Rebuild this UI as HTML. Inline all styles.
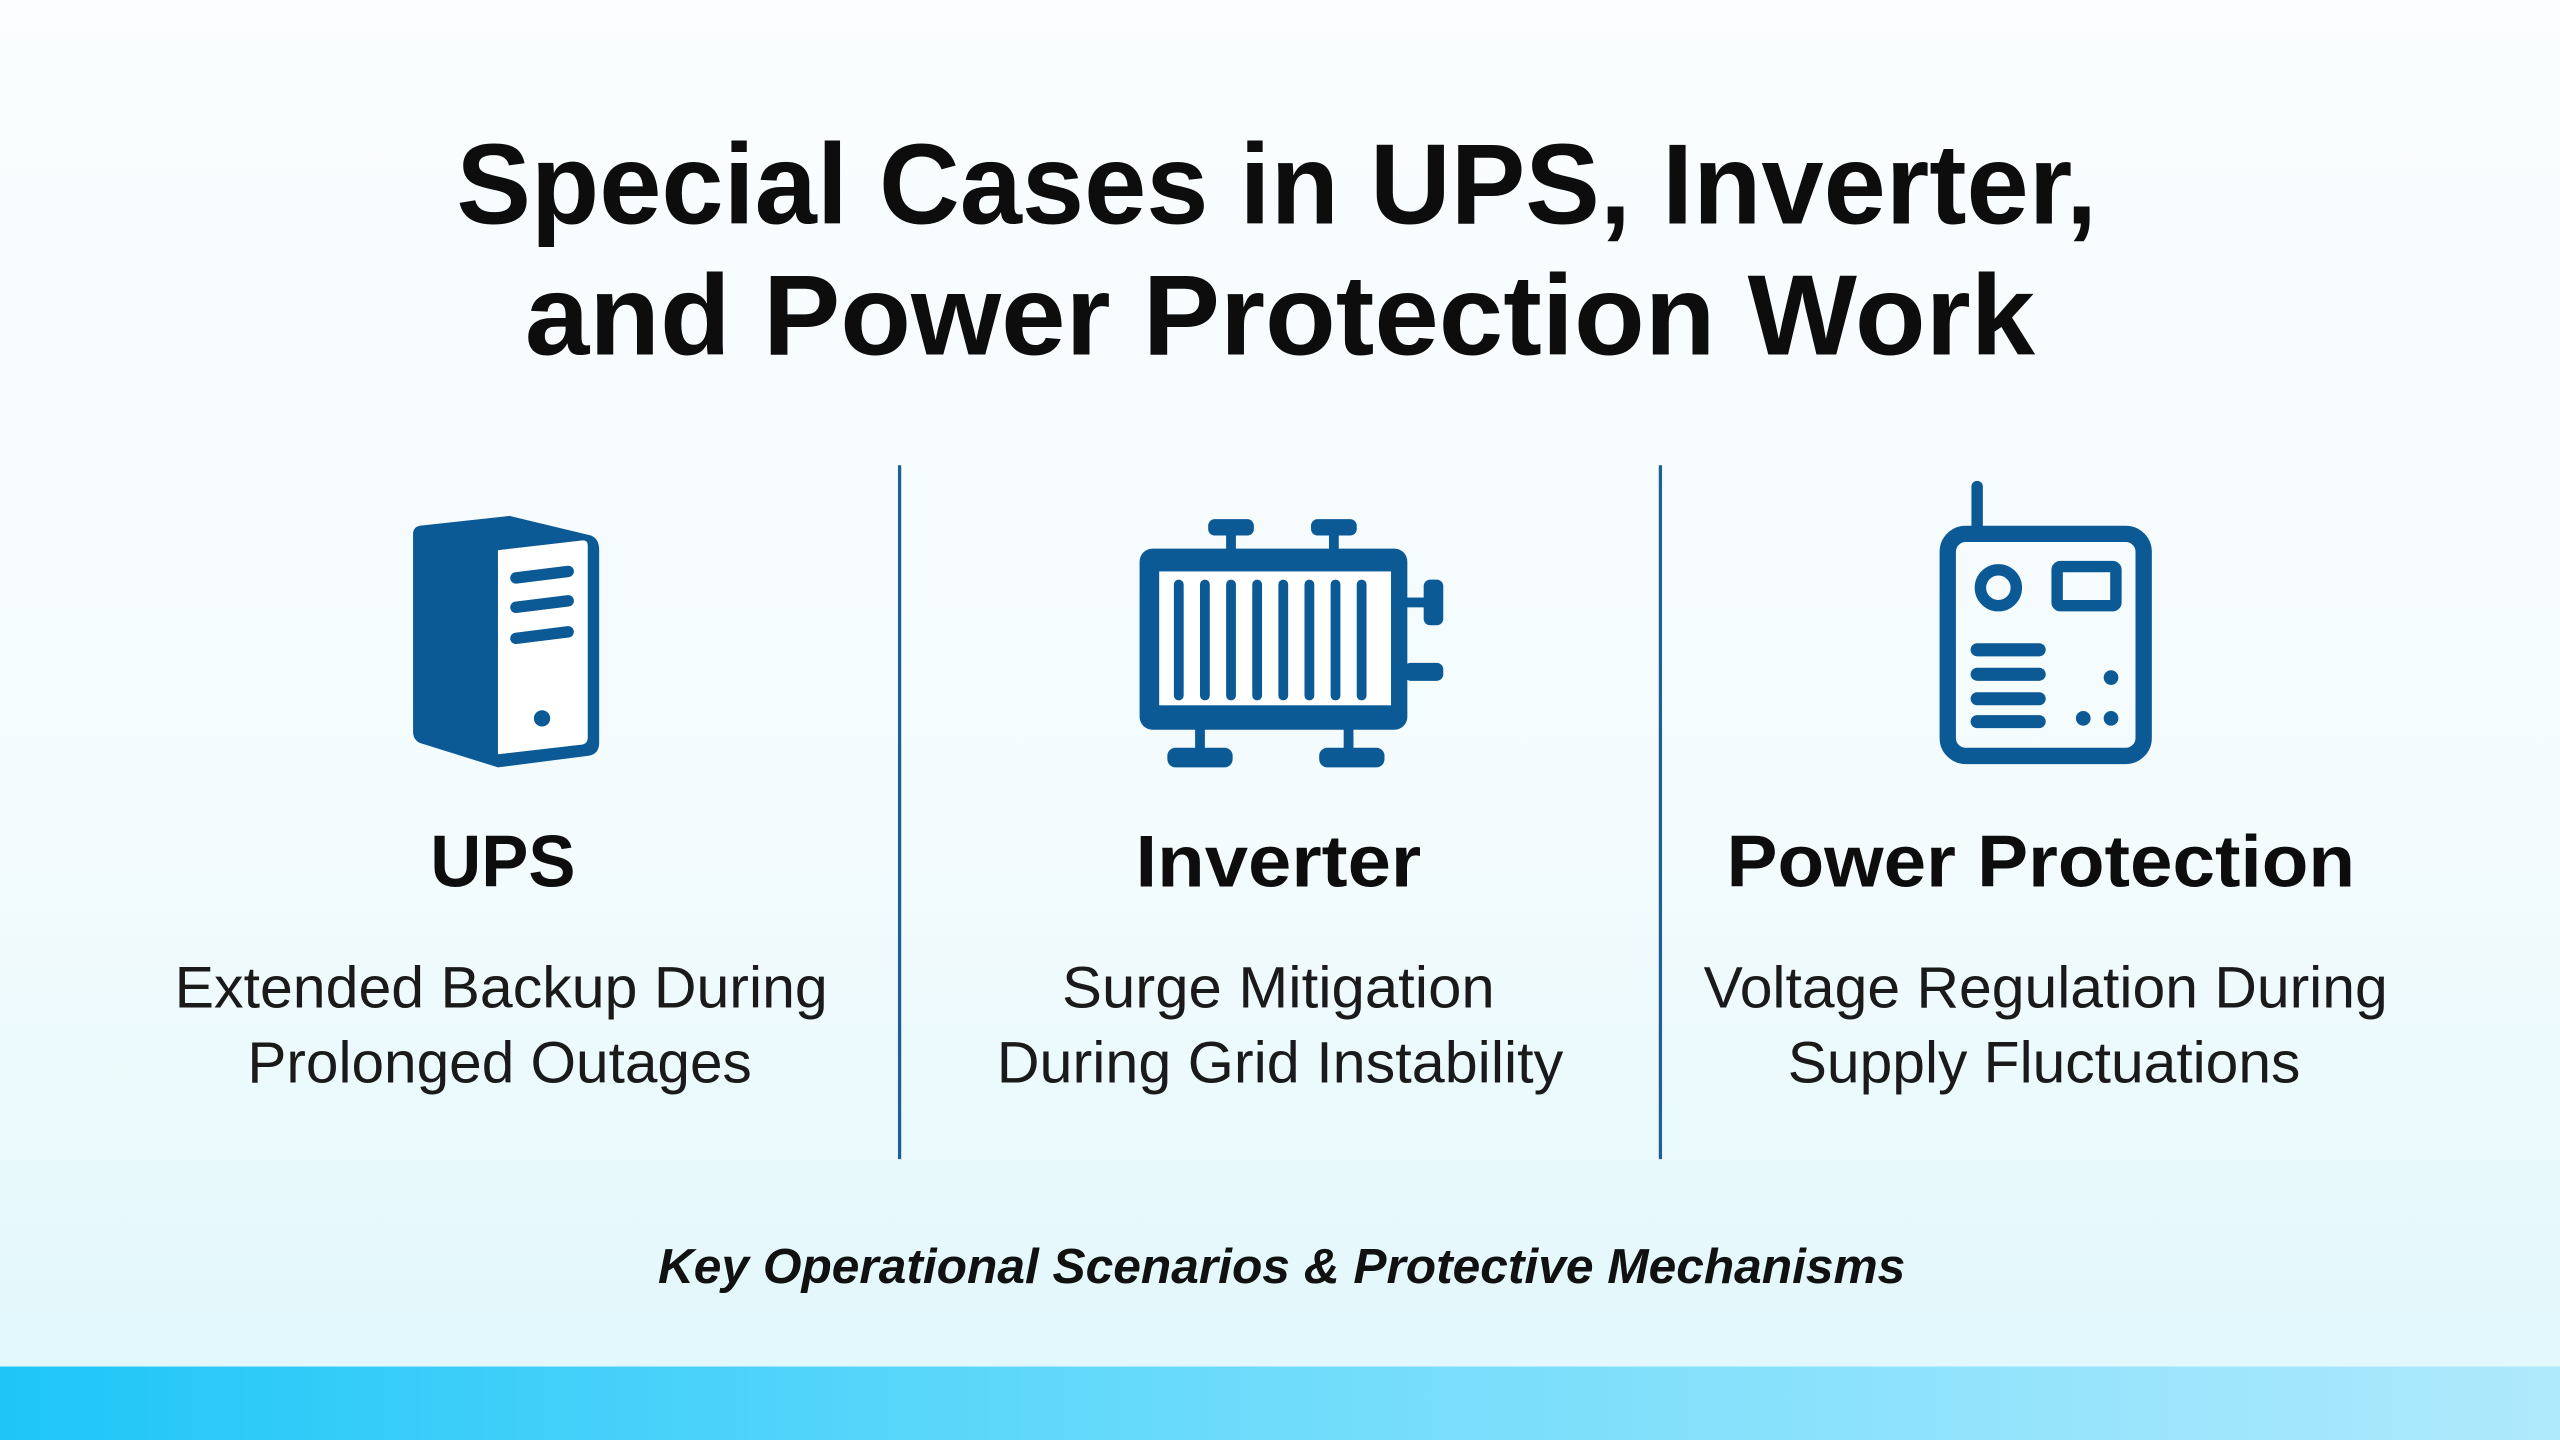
<!DOCTYPE html>
<html><head><meta charset="utf-8"><style>
html,body{margin:0;padding:0;width:2560px;height:1440px;overflow:hidden;}
svg{display:block}
</style></head><body>
<svg width="2560" height="1440" viewBox="0 0 1568 882" xmlns="http://www.w3.org/2000/svg">
<defs>
<linearGradient id="bg" x1="0" y1="0" x2="0" y2="1">
<stop offset="0" stop-color="#fbfdfe"/><stop offset="0.6" stop-color="#f3fbfd"/><stop offset="1" stop-color="#dff7fc"/>
</linearGradient>
<linearGradient id="bar" x1="0" y1="0" x2="1" y2="0">
<stop offset="0" stop-color="#1ec6f8"/><stop offset="0.5" stop-color="#6fdcfb"/><stop offset="1" stop-color="#afe9fc"/>
</linearGradient>
</defs>
<rect width="1568" height="882" fill="url(#bg)"/>
<rect y="837" width="1568" height="45" fill="url(#bar)"/>

<g font-family="Liberation Sans, sans-serif" fill="#0d0d0d" text-anchor="middle">
<text x="782" y="137" font-size="70" font-weight="bold" textLength="1005" lengthAdjust="spacingAndGlyphs">Special Cases in UPS, Inverter,</text>
<text x="784" y="217" font-size="70" font-weight="bold" textLength="925" lengthAdjust="spacingAndGlyphs">and Power Protection Work</text>

<text x="308" y="543" font-size="45" font-weight="bold" textLength="89" lengthAdjust="spacingAndGlyphs">UPS</text>
<text x="783" y="543" font-size="45" font-weight="bold" textLength="175" lengthAdjust="spacingAndGlyphs">Inverter</text>
<text x="1250" y="543" font-size="45" font-weight="bold" textLength="385" lengthAdjust="spacingAndGlyphs">Power Protection</text>

<g font-size="36" fill="#1a1a1a">
<text x="307" y="617" textLength="400" lengthAdjust="spacingAndGlyphs">Extended Backup During</text>
<text x="306" y="663" textLength="309" lengthAdjust="spacingAndGlyphs">Prolonged Outages</text>
<text x="783" y="617" textLength="265" lengthAdjust="spacingAndGlyphs">Surge Mitigation</text>
<text x="784" y="663" textLength="347" lengthAdjust="spacingAndGlyphs">During Grid Instability</text>
<text x="1253" y="617" textLength="419" lengthAdjust="spacingAndGlyphs">Voltage Regulation During</text>
<text x="1252" y="663" textLength="314" lengthAdjust="spacingAndGlyphs">Supply Fluctuations</text>
</g>
<text x="785" y="786" font-size="30" font-weight="bold" font-style="italic" fill="#111" textLength="764" lengthAdjust="spacingAndGlyphs">Key Operational Scenarios &amp; Protective Mechanisms</text>
</g>

<line x1="551" y1="285" x2="551" y2="710" stroke="#1f5f93" stroke-width="2"/>
<line x1="1017" y1="285" x2="1017" y2="710" stroke="#1f5f93" stroke-width="2"/>

<!-- UPS icon -->
<g fill="#0b5a96">
<path d="M257,322 L312,316 L362,328 Q367,330 367,337 L367,455 Q367,462 360,463 L305,470 L257,455 Q253,453 253,448 L253,327 Q253,323 257,322 Z"/>
<path d="M305,337 L357,331 Q360,331 360,334 L360,452 Q360,455 357,456 L305,462 Z" fill="#fff"/>
<g stroke="#0b5a96" stroke-width="7" stroke-linecap="round">
<line x1="316" y1="354" x2="348" y2="350"/>
<line x1="316" y1="372" x2="348" y2="368"/>
<line x1="316" y1="391" x2="348" y2="387"/>
</g>
<circle cx="332" cy="440" r="5"/>
</g>

<!-- Inverter icon -->
<g fill="#0b5a96">
<rect x="698" y="336" width="164" height="111" rx="8"/>
<rect x="710" y="350" width="142" height="82" fill="#fff"/>
<g stroke="#0b5a96" stroke-width="6" stroke-linecap="round">
<line x1="722" y1="358" x2="722" y2="426"/><line x1="738" y1="358" x2="738" y2="426"/>
<line x1="754" y1="358" x2="754" y2="426"/><line x1="770" y1="358" x2="770" y2="426"/>
<line x1="786" y1="358" x2="786" y2="426"/><line x1="802" y1="358" x2="802" y2="426"/>
<line x1="818" y1="358" x2="818" y2="426"/><line x1="834" y1="358" x2="834" y2="426"/>
</g>
<rect x="751" y="324" width="6" height="14"/><rect x="814" y="324" width="6" height="14"/>
<rect x="740" y="318" width="28" height="10" rx="4"/><rect x="803" y="318" width="28" height="10" rx="4"/>
<rect x="732" y="445" width="6" height="16"/><rect x="823" y="445" width="6" height="16"/>
<rect x="715" y="458" width="40" height="12" rx="5"/><rect x="808" y="458" width="40" height="12" rx="5"/>
<rect x="860" y="366" width="14" height="6"/><rect x="872" y="355" width="12" height="28" rx="4"/>
<rect x="860" y="406" width="24" height="11" rx="4"/>
</g>

<!-- Power protection icon -->
<g fill="none" stroke="#0b5a96">
<rect x="1193" y="327" width="120" height="136" rx="11" stroke-width="10"/>
<line x1="1211" y1="298" x2="1211" y2="324" stroke-width="7" stroke-linecap="round"/>
<circle cx="1224" cy="360" r="11" stroke-width="7"/>
<rect x="1260" y="347" width="36" height="24" rx="2" stroke-width="7"/>
<g stroke-width="8" stroke-linecap="round">
<line x1="1211" y1="398" x2="1249" y2="398"/><line x1="1211" y1="413" x2="1249" y2="413"/>
<line x1="1211" y1="428" x2="1249" y2="428"/><line x1="1211" y1="442" x2="1249" y2="442"/>
</g>
</g>
<g fill="#0b5a96"><circle cx="1293" cy="415" r="4.5"/><circle cx="1276" cy="440" r="4.5"/><circle cx="1293" cy="440" r="4.5"/></g>
</svg>
</body></html>
